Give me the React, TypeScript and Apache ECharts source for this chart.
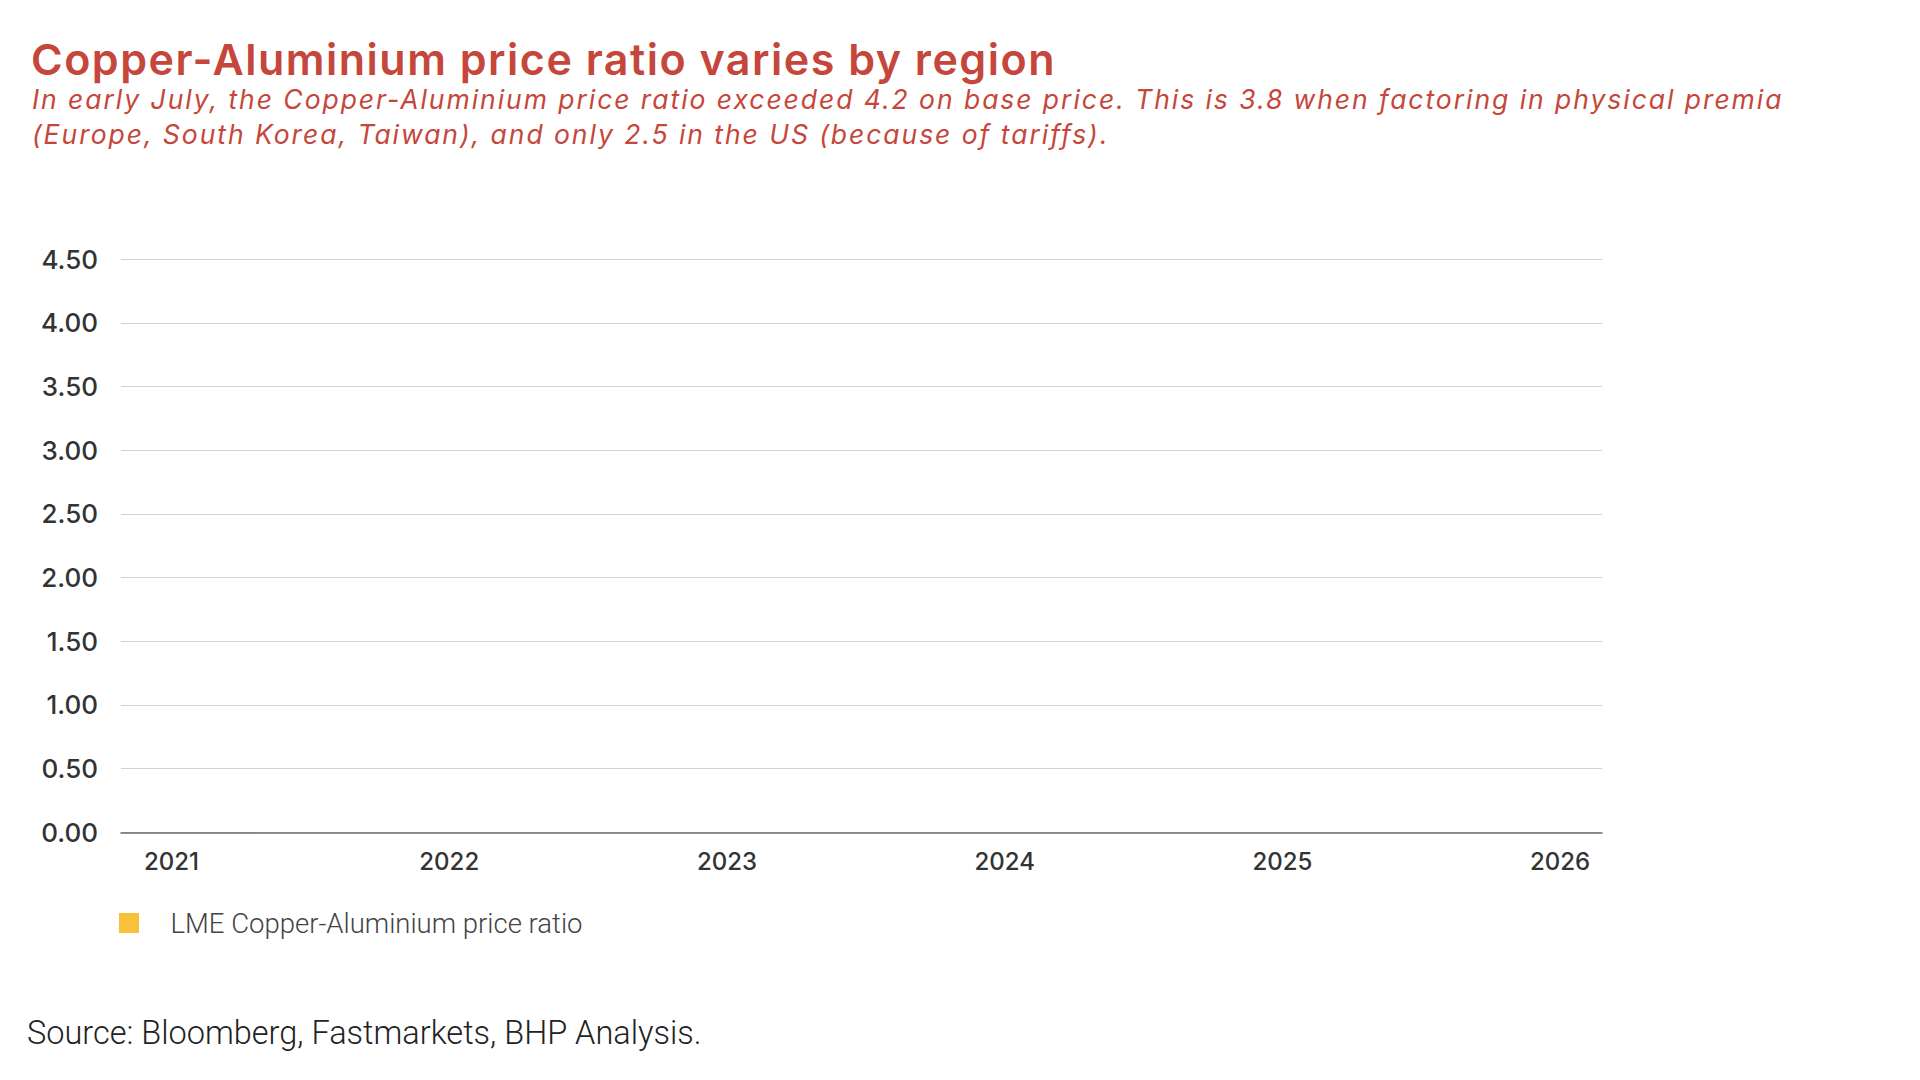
import React, { useEffect, useRef } from "react";
import * as echarts from "echarts";

const titleText = "Copper-Aluminium price ratio varies by region";
const subtitleLines = [
  "In early July, the Copper-Aluminium price ratio exceeded 4.2 on base price. This is 3.8 when factoring in physical premia",
  "(Europe, South Korea, Taiwan), and only 2.5 in the US (because of tariffs).",
];
const sourceText = "Source: Bloomberg, Fastmarkets, BHP Analysis.";
const seriesName = "LME Copper-Aluminium price ratio";
const yearTicks = [2021, 2022, 2023, 2024, 2025, 2026];
const yTicks = [0, 0.5, 1, 1.5, 2, 2.5, 3, 3.5, 4, 4.5];
const xRange = [2020.818, 2026.151];
// No line is drawn in the reference picture: the series holds no points.
const ratioPoints: [number, number][] = [];

const RED = "#C5473B";

export default function App() {
  const ref = useRef<HTMLDivElement>(null);
  useEffect(() => {
    document.body.style.margin = "0";
    if (!ref.current) return;
    const chart = echarts.init(ref.current, undefined, { renderer: "svg" });
    const option: any = {
      animation: false,
      backgroundColor: "#ffffff",
      grid: { left: 121, right: 318, top: 259.3, bottom: 247.7, containLabel: false },
      xAxis: {
        type: "value",
        min: xRange[0],
        max: xRange[1],
        splitLine: { show: false },
        axisTick: { show: false },
        axisLine: { show: true, lineStyle: { color: "#6e6e6e", width: 1.5 } },
        axisLabel: {
          customValues: yearTicks,
          formatter: (v: number) => String(Math.round(v)),
          fontFamily: "Inter",
          fontWeight: 500,
          fontSize: 24,
          color: "#333333",
          margin: 17,
        },
      },
      yAxis: {
        type: "value",
        min: yTicks[0],
        max: yTicks[yTicks.length - 1],
        interval: yTicks[1] - yTicks[0],
        axisLine: { show: false },
        axisTick: { show: false },
        splitLine: { show: true, lineStyle: { color: "#d3d3d3", width: 1 } },
        axisLabel: {
          formatter: (v: number) => v.toFixed(2),
          fontFamily: "Inter",
          fontWeight: 500,
          fontSize: 26,
          color: "#333333",
          margin: 23,
          padding: [6, 0, 0, 0],
        },
      },
      legend: {
        data: [seriesName],
        left: 119,
        top: 909,
        padding: 0,
        icon: "rect",
        itemWidth: 20,
        itemHeight: 20,
        textStyle: {
          fontFamily: "Roboto",
          fontWeight: 300,
          fontSize: 27.5,
          lineHeight: 20,
          color: "#444444",
          padding: [0, 0, 0, 26.5],
        },
      },
      series: [
        {
          type: "line",
          name: seriesName,
          data: ratioPoints,
          color: "#F9C13A",
          showSymbol: false,
          lineStyle: { width: 3 },
        },
      ],
      graphic: [
        {
          type: "text",
          left: 31,
          top: 36.5,
          style: {
            text: titleText,
            fontFamily: "Inter",
            fontWeight: 600,
            fontSize: 43,
            lineHeight: 44,
            fill: RED,
          },
        },
        {
          type: "text",
          left: 32,
          top: 82,
          style: {
            text: subtitleLines.join("\n"),
            fontFamily: "Inter",
            fontStyle: "italic",
            fontWeight: 400,
            fontSize: 26.5,
            lineHeight: 34.5,
            fill: RED,
          },
        },
        {
          type: "text",
          left: 27,
          top: 1014.5,
          style: {
            text: sourceText,
            fontFamily: "Roboto",
            fontWeight: 300,
            fontSize: 32.5,
            lineHeight: 36,
            fill: "#222222",
          },
        },
      ],
    };
    chart.setOption(option);
    // The reference sets its title and subtitle with wide tracking.
    ref.current.querySelectorAll("text").forEach((t) => {
      const s = t.textContent || "";
      if (s === titleText) t.setAttribute("letter-spacing", "1.5");
      else if (subtitleLines.some((l) => s === l)) t.setAttribute("letter-spacing", "1.95");
    });
    return () => chart.dispose();
  }, []);
  return <div ref={ref} style={{ width: 1920, height: 1080 }} />;
}
